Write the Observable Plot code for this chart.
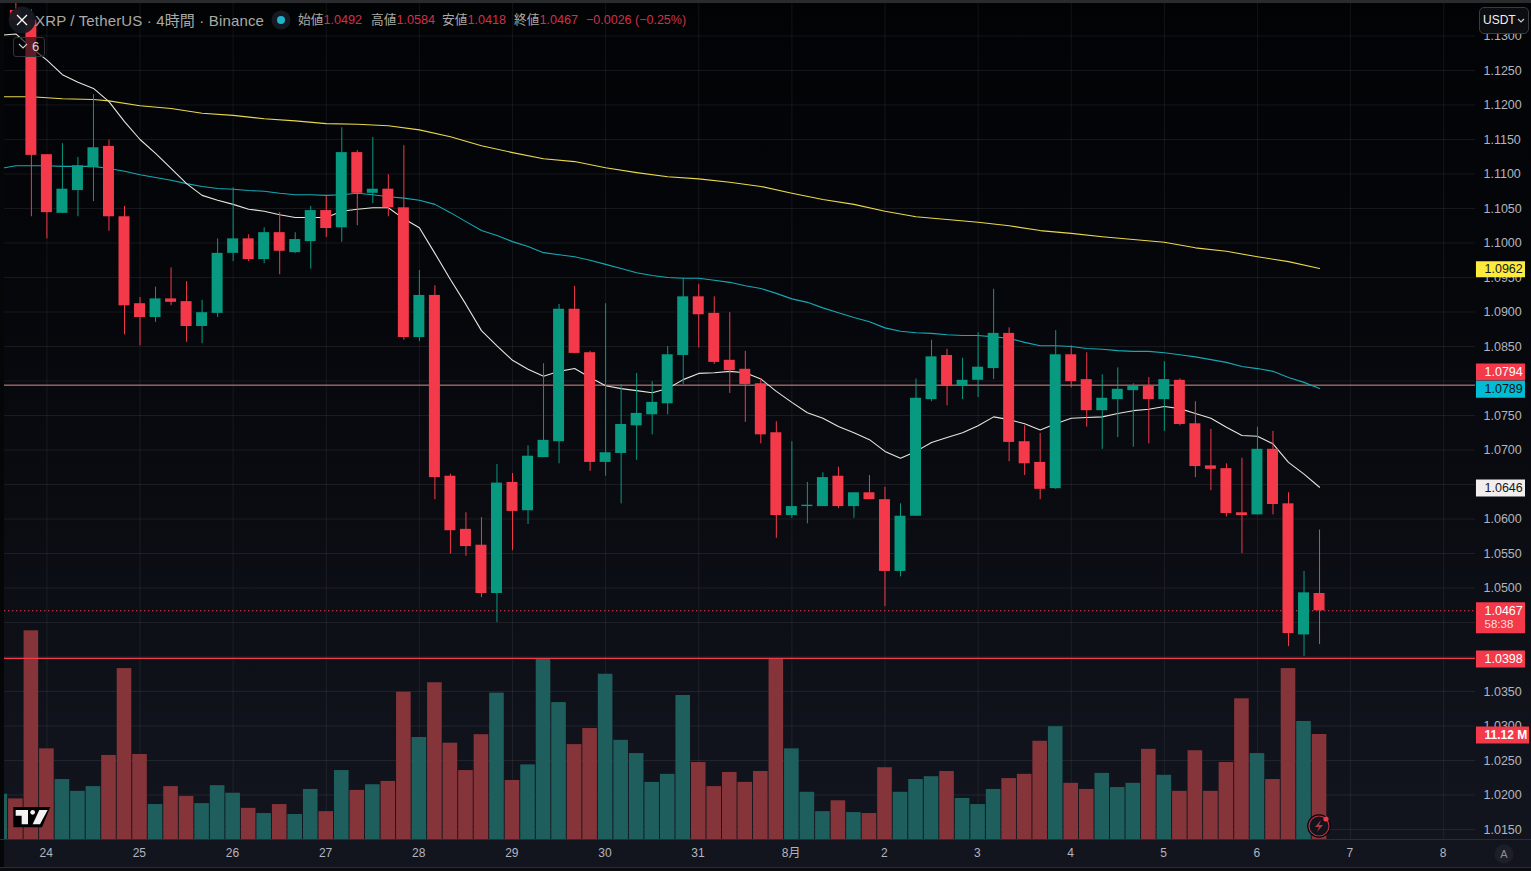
<!DOCTYPE html>
<html lang="ja">
<head>
<meta charset="utf-8">
<title>XRP / TetherUS 4時間</title>
<script src="https://cdn.jsdelivr.net/npm/d3@7"></script>
<script src="https://cdn.jsdelivr.net/npm/@observablehq/plot@0.6"></script>
<style>
html,body{margin:0;padding:0;width:1531px;height:871px;overflow:hidden;background:#000;}
#stage{position:relative;width:1531px;height:871px;overflow:hidden;
  background:linear-gradient(180deg,#020305 0%,#05060a 30%,#0a0c12 60%,#10131b 85%,#12151e 100%);
  font-family:"Liberation Sans","Noto Sans CJK JP",sans-serif;}
#stage>svg{position:absolute;left:0;top:0;background:transparent;}
.abs{position:absolute;white-space:nowrap;}
.hd{font-size:15px;letter-spacing:.15px;color:#a9aaa6;top:11px;line-height:19px;}
.lb{font-size:12.7px;color:#a9aaa6;top:12px;line-height:17px;}
.lb b{font-weight:normal;color:#d2304a;}
.rd{color:#d2304a;font-size:12.5px;}
</style>
</head>
<body>
<div id="stage"></div>
<script>
// --- series (4h candles, day index 0 = the 24th, 00:00) ---
const firstCandle = -2;
const opens = [1.1337,
 1.1323,1.1128,1.1043,1.1076,1.1109,1.1140,1.1038,1.0912,1.0892,1.0919,1.0915,1.0879,1.0898,1.0985,1.1006,1.0976,1.1015,1.0986,1.1002,1.1047,1.1022,1.1131,1.1072,1.1078,1.1051,
 1.0863,1.0924,1.0662,1.0585,1.0562,1.0492,1.0653,1.0612,1.0689,1.0712,1.0904,1.0841,1.0682,1.0695,1.0735,1.0751,1.0767,1.0837,1.0922,1.0898,1.0830,1.0817,1.0796,1.0725,
 1.0605,1.0618,1.0618,1.0662,1.0618,1.0638,1.0628,1.0524,1.0604,1.0773,1.0837,1.0793,1.0801,1.0818,1.0869,1.0712,1.0682,1.0644,1.0838,1.0802,1.0757,1.0773,1.0786,1.0793,1.0773,
 1.0801,1.0738,1.0677,1.0673,1.0609,1.0606,1.0701,1.0622,1.0432,1.0492];
const highs = [1.1350,
 1.1338,1.1128,1.1144,1.1124,1.1215,1.1149,1.1053,1.0921,1.0936,1.0964,1.0944,1.0917,1.1006,1.1080,1.1012,1.1022,1.1044,1.1015,1.1053,1.1069,1.1167,1.1134,1.1153,1.1099,1.1141,
 1.0960,1.0938,1.0665,1.0609,1.0602,1.0679,1.0666,1.0706,1.0825,1.0911,1.0937,1.0843,1.0912,1.0795,1.0811,1.0799,1.0850,1.0949,1.0940,1.0922,1.0899,1.0843,1.0803,1.0741,
 1.0712,1.0653,1.0667,1.0675,1.0638,1.0663,1.0646,1.0622,1.0803,1.0859,1.0846,1.0833,1.0870,1.0933,1.0877,1.0735,1.0724,1.0873,1.0851,1.0841,1.0809,1.0819,1.0796,1.0805,1.0828,
 1.0803,1.0770,1.0730,1.0680,1.0688,1.0733,1.0727,1.0638,1.0524,1.0584];
const lows = [1.1322,
 1.1038,1.1006,1.1043,1.1038,1.1060,1.1017,1.0867,1.0851,1.0885,1.0909,1.0856,1.0854,1.0892,1.0973,1.0973,1.0970,1.0954,1.0985,1.0962,1.1008,1.1001,1.1025,1.1057,1.1038,1.0859,
 1.0857,1.0628,1.0549,1.0546,1.0486,1.0450,1.0554,1.0592,1.0689,1.0680,1.0840,1.0669,1.0662,1.0622,1.0685,1.0722,1.0751,1.0795,1.0848,1.0824,1.0782,1.0740,1.0709,1.0572,
 1.0601,1.0593,1.0618,1.0615,1.0601,1.0628,1.0473,1.0516,1.0604,1.0770,1.0764,1.0773,1.0776,1.0802,1.0683,1.0663,1.0628,1.0643,1.0790,1.0733,1.0701,1.0718,1.0704,1.0709,1.0727,
 1.0735,1.0660,1.0641,1.0603,1.0550,1.0606,1.0606,1.0415,1.0401,1.0418];
const closes = [1.1322,
 1.1127,1.1044,1.1078,1.1112,1.1138,1.1038,1.0909,1.0892,1.0919,1.0914,1.0879,1.0899,1.0985,1.1006,1.0976,1.1015,1.0988,1.1005,1.1047,1.1021,1.1131,1.1072,1.1078,1.1051,1.0863,
 1.0924,1.0660,1.0583,1.0560,1.0492,1.0652,1.0611,1.0691,1.0714,1.0904,1.0840,1.0682,1.0696,1.0737,1.0753,1.0769,1.0838,1.0922,1.0896,1.0827,1.0815,1.0795,1.0722,1.0605,
 1.0618,1.0620,1.0660,1.0618,1.0638,1.0628,1.0524,1.0604,1.0775,1.0835,1.0792,1.0801,1.0820,1.0869,1.0711,1.0680,1.0643,1.0838,1.0799,1.0757,1.0775,1.0788,1.0793,1.0773,1.0802,
 1.0737,1.0676,1.0672,1.0608,1.0605,1.0701,1.0621,1.0434,1.0493,1.0467];

// volume in millions, from index -3; bar colour: 1 = up, 0 = down
const firstVolume = -3;
const volumes = [4.8,4.3,22.1,9.6,6.35,5.1,5.6,8.9,18.1,9.0,3.7,5.6,4.55,3.8,5.7,4.9,3.3,2.75,3.7,2.65,5.3,2.95,7.3,5.2,5.8,6.15,15.6,10.8,16.6,10.2,7.3,11.1,15.5,6.25,7.9,19.1,14.5,10.05,11.75,17.5,10.5,9.1,6.05,6.9,15.25,
 8.15,5.6,7.1,6.05,7.2,19.1,9.6,5.0,2.95,4.1,2.85,2.75,7.6,5.0,6.35,6.65,7.2,4.35,3.7,5.3,6.45,6.9,10.4,11.95,5.95,5.3,7.0,5.5,5.95,9.55,6.8,5.1,9.4,5.1,8.15,14.9,9.1,6.35,18.1,12.5,11.12];
const volumeUp = [1,0,0,0,1,1,1,0,0,0,1,0,0,1,1,1,0,1,0,1,1,0,1,0,1,0,0,1,0,0,0,0,1,0,1,1,1,0,0,1,1,1,1,1,1,
 0,0,0,0,0,0,1,1,1,0,1,0,0,1,1,1,0,1,1,1,0,0,0,1,0,0,1,1,1,0,1,0,0,0,0,0,1,0,0,1,0];

// moving averages, from index -3
const firstMA = -3;
const maWhite = [1.1301,1.1303,1.1283,1.1265,1.1244,1.1233,1.1224,1.1205,1.1176,1.1150,1.1130,1.1108,1.1086,1.1069,1.1062,1.1056,1.1049,1.1046,1.1041,1.1037,1.1037,1.1037,1.1046,1.1049,1.1051,1.1051,1.1035,1.1022,
 1.0985,1.0947,1.0911,1.0873,1.0851,1.0830,1.0817,1.0807,1.0814,1.0818,1.0805,1.0793,1.0789,1.0786,1.0783,1.0789,1.0802,1.0811,1.0812,1.0814,1.0812,1.0803,1.0785,1.0769,1.0754,
 1.0746,1.0734,1.0725,1.0715,1.0698,1.0688,1.0698,1.0711,1.0718,1.0725,1.0735,1.0748,1.0744,1.0738,1.0729,1.0738,1.0746,1.0747,1.0748,1.0753,1.0757,1.0759,1.0763,1.0760,1.0753,1.0746,1.0733,1.0721,1.0720,1.0709,1.0682,1.0665,1.0646];
const maTeal = [1.1108,1.1112,1.1112,1.1112,1.1111,1.1111,1.1111,1.1108,1.1104,1.1099,1.1095,1.1091,1.1086,1.1082,1.1079,1.1078,1.1076,1.1075,1.1072,1.1070,1.1070,1.1069,1.1070,1.1072,1.1070,1.1067,1.1065,1.1062,
 1.1056,1.1044,1.1031,1.1018,1.1011,1.1002,1.0995,1.0986,1.0983,1.0980,1.0975,1.0969,1.0963,1.0957,1.0953,1.0950,1.0949,1.0949,1.0946,1.0943,1.0938,1.0934,1.0927,1.0919,1.0914,
 1.0906,1.0899,1.0892,1.0886,1.0877,1.0872,1.0870,1.0869,1.0867,1.0866,1.0866,1.0864,1.0862,1.0856,1.0851,1.0851,1.0850,1.0847,1.0846,1.0844,1.0843,1.0843,1.0841,1.0838,1.0835,1.0831,1.0827,1.0821,1.0818,1.0814,1.0805,1.0798,1.0789];
const yellowIndex = [-3,-1,1,3,4,6,8,10,12,14,16,18,20,22,24,26,28,30,32,34,36,38,40,42,44,46,48,50,52,54,56,58,60,62,64,66,68,70,72,74,76,78,80,82];
const maYellow = [1.1212,1.1212,1.1209,1.1208,1.1206,1.1199,1.1195,1.1188,1.1185,1.1180,1.1177,1.1173,1.1172,1.1170,1.1164,1.1154,1.1141,1.1131,1.1122,1.1118,1.1109,1.1102,1.1096,1.1093,1.1088,1.1082,1.1072,1.1063,1.1056,1.1046,1.1038,1.1034,1.1030,1.1025,1.1018,1.1014,1.1009,1.1005,1.1001,1.0993,1.0988,1.0980,1.0973,1.0963];

// axes; the levels 1.0400, 1.0450, 1.0650 and 1.0800 sit fully behind price tags, so they print no label
const priceTicks = [1.015,1.02,1.025,1.03,1.035,1.04,1.045,1.05,1.055,1.06,1.065,1.07,1.075,1.08,1.085,1.09,1.095,1.10,1.105,1.11,1.115,1.12,1.125,1.13];
const hiddenLabels = [1.04,1.045,1.065,1.08];
const labelledTicks = priceTicks.filter(t=>!hiddenLabels.includes(t));
const dayTicks = [0,6,12,18,24,30,36,42,48,54,60,66,72,78,84,90];
const dayLabels = ["24","25","26","27","28","29","30","31","8月","2","3","4","5","6","7","8"];

// price lines and their tags on the axis
const lastPrice = 1.0467, lowLine = 1.0398, upperLine = 1.0794;
const tagNames  = ["1.0794","1.0789","1.0962","1.0646","1.0467","1.0398"];
const tagCentre = [1.0813,1.0788,1.0962,1.0645,1.0457,1.0397];
const tagText   = [1.0813,1.0788,1.0962,1.0645,1.0467,1.0397];
const tagFill   = ["#f43a4a","#00bcd4","#ffeb3b","#f2eeee","#f43a4a","#f43a4a"];
const tagInk    = ["#ffffff","#10131a","#131722","#131722","#ffffff","#ffffff"];
const tagSize   = [17,17,16,17,31,17];

// tables built from the arrays
const candles = opens.map((o,k)=>({i:firstCandle+k,o,h:highs[k],l:lows[k],c:closes[k],up:closes[k]>=o}));
const volumeRows = volumes.map((v,k)=>({i:firstVolume+k,v,up:volumeUp[k]===1}));
const whiteRows = maWhite.map((p,k)=>({i:firstMA+k,p}));
const tealRows = maTeal.map((p,k)=>({i:firstMA+k,p}));
const yellowRows = maYellow.map((p,k)=>({i:yellowIndex[k],p}));
const tags = tagNames.map((name,k)=>({name,y:tagCentre[k],ty:tagText[k],fill:tagFill[k],ink:tagInk[k],size:tagSize[k]}));

const UP="#089981", DOWN="#f43a4a", VUP="#1e5f5e", VDOWN="#85353a", INK="#b2b5be", GRID="#ffffff";

const frame = {
  width:1531, height:871, marginLeft:0, marginRight:56, marginTop:0, marginBottom:32,
  style:{background:"transparent",fontFamily:'"Liberation Sans","Noto Sans CJK JP",sans-serif',fontSize:"12.5px",overflow:"visible"},
  x:{type:"linear",domain:[-2.9897,92.049],range:[0,1475]}
};
const priceY = {type:"linear",domain:[1.013551,1.135145],range:[839,0]};

const base = Plot.plot({...frame, y:priceY, marks:[
  Plot.ruleY(priceTicks,{stroke:GRID,strokeOpacity:0.075,strokeWidth:1}),
  Plot.ruleX(dayTicks,{stroke:GRID,strokeOpacity:0.065,strokeWidth:1}),
  Plot.axisY(labelledTicks,{anchor:"right",tickSize:0,tickPadding:8,tickFormat:d=>d.toFixed(4),color:INK,label:null,fontSize:12.5}),
  Plot.axisX(dayTicks,{anchor:"bottom",tickSize:0,tickPadding:9,dx:-0.7,tickFormat:d=>dayLabels[dayTicks.indexOf(d)],color:INK,label:null,fontSize:12})
]});

const vol = Plot.plot({...frame, y:{type:"linear",domain:[0,88.85],range:[839,0]}, axis:null, marks:[
  Plot.rect(volumeRows,{x1:d=>d.i-0.47,x2:d=>d.i+0.47,y1:0,y2:"v",fill:d=>d.up?VUP:VDOWN})
]});

const price = Plot.plot({...frame, y:priceY, axis:null, marks:[
  Plot.ruleY([upperLine],{stroke:"#dc8f8c",strokeWidth:1,x1:-2.9897,x2:92.049}),
  Plot.ruleY([lowLine],{stroke:"#f43a4a",strokeWidth:1.4,x1:-2.9897,x2:92.049}),
  Plot.ruleY([lastPrice],{stroke:"#f43a4a",strokeWidth:1,strokeDasharray:"1.4 2.6",x1:-2.9897,x2:92.049}),
  Plot.line(yellowRows,{x:"i",y:"p",stroke:"#e9d84a",strokeWidth:1.1}),
  Plot.line(tealRows,{x:"i",y:"p",stroke:"#15a9b5",strokeWidth:1.1}),
  Plot.line(whiteRows,{x:"i",y:"p",stroke:"#e6e6dc",strokeWidth:1.1}),
  Plot.ruleX(candles,{x:"i",y1:"l",y2:"h",stroke:d=>d.up?UP:DOWN,strokeWidth:1}),
  Plot.rect(candles,{x1:d=>d.i-0.354,x2:d=>d.i+0.354,y1:"o",y2:"c",fill:d=>d.up?UP:DOWN}),
  // axis tags
  Plot.ruleY(tags,{y:"y",x1:92.11,x2:95.27,stroke:d=>d.fill,strokeWidth:d=>d.size}),
  Plot.text(tags,{x:92.63,y:"ty",text:"name",fill:d=>d.ink,textAnchor:"start",lineAnchor:"middle",fontSize:12.5,fontWeight:d=>d.ink==="#ffffff"?"bold":"normal"}),
  Plot.text(["58:38"],{x:92.63,y:1.0447,text:d=>d,fill:"#fff",fillOpacity:0.85,textAnchor:"start",lineAnchor:"middle",fontSize:11.5}),
  Plot.ruleY([1.0287],{x1:92.11,x2:95.53,stroke:"#f43a4a",strokeWidth:17}),
  Plot.text(["11.12 M"],{x:92.63,y:1.0287,text:d=>d,fill:"#fff",textAnchor:"start",lineAnchor:"middle",fontSize:12,fontWeight:"bold"})
]});

const stage = document.getElementById("stage");
stage.append(base, vol, price);

const chrome = `
<div class="abs" style="left:0;top:0;width:1531px;height:3px;background:#2a2b2d"></div>
<div class="abs" style="left:0;top:3px;width:4px;height:864px;background:#050608"></div>
<div class="abs" style="left:0;top:839px;width:1531px;height:1px;background:#2a2d36"></div>
<div class="abs" style="left:0;top:867px;width:1531px;height:1px;background:#2a2d36"></div>
<div class="abs" style="left:0;top:868px;width:1531px;height:3px;background:#0b0c0f"></div>

<svg class="abs" style="left:8px;top:6px" width="28" height="28" viewBox="0 0 28 28">
  <circle cx="14" cy="14" r="13.5" fill="#161922" fill-opacity="0.95"/>
  <path d="M9 9L19 19M19 9L9 19" stroke="#fff" stroke-width="1.3"/>
</svg>
<div class="abs hd" style="left:35px">XRP / TetherUS · 4時間 · Binance</div>
<svg class="abs" style="left:271px;top:10px" width="20" height="20" viewBox="0 0 20 20">
  <circle cx="10" cy="10" r="9.5" fill="#161922"/><circle cx="10" cy="10" r="4" fill="#1db4cc"/>
</svg>
<div class="abs lb" style="left:298px">始値<b>1.0492</b></div>
<div class="abs lb" style="left:371px">高値<b>1.0584</b></div>
<div class="abs lb" style="left:442px">安値<b>1.0418</b></div>
<div class="abs lb" style="left:514px">終値<b>1.0467</b></div>
<div class="abs lb rd" style="left:586px">−0.0026 (−0.25%)</div>

<div class="abs" style="left:13px;top:37px;width:30px;height:18px;border:1px solid #32343a;border-radius:3px;background:rgba(5,6,9,.62)"></div>
<svg class="abs" style="left:18px;top:42px" width="10" height="8" viewBox="0 0 10 8"><path d="M1 2L5 6L9 2" fill="none" stroke="#d0d0d0" stroke-width="1.1"/></svg>
<div class="abs" style="left:32px;top:38px;font-size:13px;line-height:18px;color:#d6d6d6">6</div>

<div class="abs" style="left:1479px;top:7px;width:48px;height:25px;border:1px solid #3a3c42;border-radius:5px;background:#0c0d10"></div>
<div class="abs" style="left:1483px;top:12px;font-size:12px;line-height:17px;color:#f2f2f2">USDT</div>
<svg class="abs" style="left:1516px;top:17px" width="10" height="7" viewBox="0 0 10 7"><path d="M2 2L5 5L8 2" fill="none" stroke="#d0d0d0" stroke-width="1.1"/></svg>

<svg class="abs" style="left:0;top:795px" width="70" height="76" viewBox="0 0 210 228">
  <path d="M40 36H151L126 97H40Z" fill="#000"/>
  <path d="M47 45H84V88H65V62H47Z" fill="#f2f2f2"/>
  <circle cx="98" cy="52" r="7" fill="#f2f2f2"/>
  <path d="M118 45H143L120 88H98Z" fill="#f2f2f2"/>
</svg>
<svg class="abs" style="left:1306px;top:813px" width="26" height="26" viewBox="0 0 26 26">
  <circle cx="13" cy="13" r="11" fill="#12141c" stroke="#000" stroke-width="1.6"/>
  <circle cx="13" cy="13" r="10" fill="none" stroke="#b8304a" stroke-width="1.2"/>
  <path d="M15 7L9 14H13L11 19L17 12H13Z" fill="#b8304a"/>
  <circle cx="20" cy="6" r="2.6" fill="#f43a4a"/>
</svg>
<svg class="abs" style="left:1494px;top:844px" width="20" height="20" viewBox="0 0 20 20">
  <circle cx="10" cy="10" r="9.5" fill="#1c1f27"/>
  <text x="10" y="14" text-anchor="middle" font-size="11" fill="#8b8e96" font-family="Liberation Sans">A</text>
</svg>`;
stage.insertAdjacentHTML("beforeend", chrome);
</script>
</body>
</html>
